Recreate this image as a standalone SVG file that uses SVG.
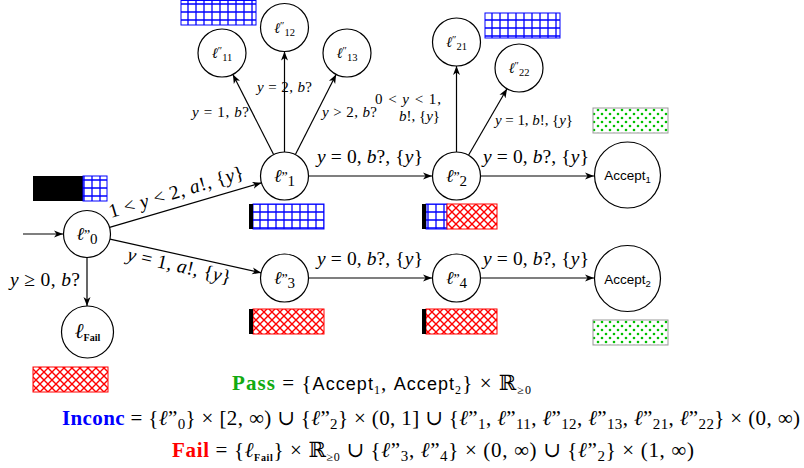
<svg xmlns="http://www.w3.org/2000/svg" width="804" height="468" viewBox="0 0 804 468">
<style>
.node circle{fill:#fff;stroke:#000;stroke-width:1.2}
.edge{fill:none;stroke:#000;stroke-width:1.2;marker-end:url(#ah)}
text{font-family:"Liberation Serif","DejaVu Serif",serif;fill:#000}
.m{font-size:19.5px}
.s{font-size:15px}
.i{font-style:italic}
.sf{font-family:"Liberation Sans","DejaVu Sans",sans-serif}
.l{font-family:"DejaVu Serif",serif;font-style:italic}
.f{font-size:21px}
.grid{fill:url(#pgrid);stroke:#0000ff;stroke-width:1}
.hatch{fill:url(#phatch);stroke:#ff0000;stroke-width:1}
.dots{fill:url(#pdots);stroke:#999;stroke-width:1}
</style>
<defs>
<marker id="ah" markerWidth="10" markerHeight="8" refX="9" refY="4" orient="auto" markerUnits="userSpaceOnUse"><path d="M0,0.5 L9,4 L0,7.5 L2.5,4 z" fill="#000"/></marker>
<pattern id="pgrid" width="8" height="8" patternUnits="userSpaceOnUse"><rect width="8" height="8" fill="#fff"/><path d="M0,4 H8 M4,0 V8" stroke="#0000ff" stroke-width="1.3"/></pattern>
<pattern id="phatch" width="8" height="8" patternUnits="userSpaceOnUse"><rect width="8" height="8" fill="#fff"/><path d="M-1,-1 L9,9 M9,-1 L-1,9" stroke="#ff0000" stroke-width="1.4"/></pattern>
<pattern id="pdots" width="8" height="8" patternUnits="userSpaceOnUse"><rect width="8" height="8" fill="#fff"/><circle cx="2" cy="2" r="1.3" fill="#00c000"/><circle cx="6" cy="6" r="1.3" fill="#00c000"/></pattern>
</defs>

<g id="bars">
<rect x="33" y="176" width="50" height="25" fill="#000"/>
<rect class="grid" x="83" y="176" width="24" height="25"/>
<rect class="grid" x="181" y="0.5" width="75" height="24.5"/>
<rect class="grid" x="485" y="13" width="75" height="25"/>
<rect class="dots" x="593" y="108" width="75" height="25"/>
<rect class="grid" x="253" y="204" width="71" height="25"/>
<rect x="249" y="204" width="4" height="25" fill="#000"/>
<rect class="grid" x="426" y="204" width="21" height="25"/>
<rect class="hatch" x="447" y="204" width="50" height="25"/>
<rect x="422" y="204" width="4" height="25" fill="#000"/>
<rect class="hatch" x="253" y="309" width="71" height="25"/>
<rect x="249" y="309" width="4" height="25" fill="#000"/>
<rect class="hatch" x="426" y="309" width="71" height="25"/>
<rect x="422" y="309" width="4" height="25" fill="#000"/>
<rect class="dots" x="593" y="320" width="75" height="25"/>
<rect class="hatch" x="33" y="367" width="75" height="25"/>
</g>

<g id="connectors">
<path class="edge" d="M23,234 L63,234"/>
<path class="edge" d="M109.6,227.4 L261.5,182.8"/>
<path class="edge" d="M110,239.1 L261.1,272.8"/>
<path class="edge" d="M87,257.5 L87,306"/>
<path class="edge" d="M308.5,176 L432,176"/>
<path class="edge" d="M480.5,176 L594,176"/>
<path class="edge" d="M308.5,278 L432,278"/>
<path class="edge" d="M480.5,278 L594,278"/>
<path class="edge" d="M273.6,154.6 L232.9,74.4"/>
<path class="edge" d="M284.5,152 L284.5,51.5"/>
<path class="edge" d="M295.4,154.6 L336.1,74.4"/>
<path class="edge" d="M456.5,152 L456.5,66"/>
<path class="edge" d="M468.5,155.2 L507,88.8"/>
</g>

<g id="edge-labels">
<text class="m" transform="translate(178,198) rotate(-16.6)" text-anchor="middle" textLength="140">1 &lt; <tspan class="i">y</tspan> &lt; 2, <tspan class="i">a</tspan>!, {<tspan class="i">y</tspan>}</text>
<text class="m" transform="translate(178,272) rotate(12.9)" text-anchor="middle" textLength="106"><tspan class="i">y</tspan> = 1, <tspan class="i">a</tspan>!, {<tspan class="i">y</tspan>}</text>
<text class="m" x="10" y="286" textLength="70"><tspan class="i">y</tspan> ≥ 0, <tspan class="i">b</tspan>?</text>
<text class="m" x="370" y="163" text-anchor="middle" textLength="106"><tspan class="i">y</tspan> = 0, <tspan class="i">b</tspan>?, {<tspan class="i">y</tspan>}</text>
<text class="m" x="536" y="163" text-anchor="middle" textLength="106"><tspan class="i">y</tspan> = 0, <tspan class="i">b</tspan>?, {<tspan class="i">y</tspan>}</text>
<text class="m" x="370" y="265" text-anchor="middle" textLength="106"><tspan class="i">y</tspan> = 0, <tspan class="i">b</tspan>?, {<tspan class="i">y</tspan>}</text>
<text class="m" x="536" y="265" text-anchor="middle" textLength="106"><tspan class="i">y</tspan> = 0, <tspan class="i">b</tspan>?, {<tspan class="i">y</tspan>}</text>
<text class="s" x="192" y="117" textLength="57"><tspan class="i">y</tspan> = 1, <tspan class="i">b</tspan>?</text>
<text class="s" x="257" y="92" textLength="55"><tspan class="i">y</tspan> = 2, <tspan class="i">b</tspan>?</text>
<text class="s" x="322" y="117" textLength="55"><tspan class="i">y</tspan> &gt; 2, <tspan class="i">b</tspan>?</text>
<text class="s" x="375" y="104" textLength="66">0 &lt; <tspan class="i">y</tspan> &lt; 1,</text>
<text class="s" x="440" y="121" text-anchor="end"><tspan class="i">b</tspan>!, {<tspan class="i">y</tspan>}</text>
<text class="s" x="495" y="125" textLength="78"><tspan class="i">y</tspan> = 1, <tspan class="i">b</tspan>!, {<tspan class="i">y</tspan>}</text>
</g>

<g id="n0" class="node"><circle cx="87" cy="234" r="23.5"/><text x="87" y="240" text-anchor="middle" font-size="18"><tspan class="l">ℓ</tspan><tspan font-size="14">”</tspan><tspan dy="4" font-size="15">0</tspan></text></g>
<g id="n1" class="node"><circle cx="284.5" cy="176" r="24"/><text x="284.5" y="182" text-anchor="middle" font-size="18"><tspan class="l">ℓ</tspan><tspan font-size="14">”</tspan><tspan dy="4" font-size="15">1</tspan></text></g>
<g id="n2" class="node"><circle cx="456.5" cy="176" r="24"/><text x="456.5" y="182" text-anchor="middle" font-size="18"><tspan class="l">ℓ</tspan><tspan font-size="14">”</tspan><tspan dy="4" font-size="15">2</tspan></text></g>
<g id="n3" class="node"><circle cx="284.5" cy="278" r="24"/><text x="284.5" y="284" text-anchor="middle" font-size="18"><tspan class="l">ℓ</tspan><tspan font-size="14">”</tspan><tspan dy="4" font-size="15">3</tspan></text></g>
<g id="n4" class="node"><circle cx="456.5" cy="278" r="24"/><text x="456.5" y="284" text-anchor="middle" font-size="18"><tspan class="l">ℓ</tspan><tspan font-size="14">”</tspan><tspan dy="4" font-size="15">4</tspan></text></g>
<g id="acc1" class="node"><circle cx="627.5" cy="175" r="33"/><text class="sf" x="627.5" y="180" text-anchor="middle" font-size="13.5">Accept<tspan dy="3" font-size="9.5">1</tspan></text></g>
<g id="acc2" class="node"><circle cx="627.5" cy="278.5" r="33"/><text class="sf" x="627.5" y="283.5" text-anchor="middle" font-size="13.5">Accept<tspan dy="3" font-size="9.5">2</tspan></text></g>
<g id="nfail" class="node"><circle cx="87.5" cy="332" r="26"/><text x="87.5" y="338" text-anchor="middle" font-size="21"><tspan class="l">ℓ</tspan><tspan dy="3" font-size="10" font-weight="bold">Fail</tspan></text></g>
<g id="n11" class="node"><circle cx="222" cy="53" r="24"/><text x="222" y="58" text-anchor="middle" font-size="14.5"><tspan class="l">ℓ</tspan><tspan dy="-4" font-size="10.5">″</tspan><tspan dy="7" font-size="10.5">11</tspan></text></g>
<g id="n12" class="node"><circle cx="284.5" cy="27.5" r="24"/><text x="284.5" y="32.5" text-anchor="middle" font-size="14.5"><tspan class="l">ℓ</tspan><tspan dy="-4" font-size="10.5">″</tspan><tspan dy="7" font-size="10.5">12</tspan></text></g>
<g id="n13" class="node"><circle cx="347" cy="53" r="24"/><text x="347" y="58" text-anchor="middle" font-size="14.5"><tspan class="l">ℓ</tspan><tspan dy="-4" font-size="10.5">″</tspan><tspan dy="7" font-size="10.5">13</tspan></text></g>
<g id="n21" class="node"><circle cx="456.5" cy="42" r="24"/><text x="456.5" y="47" text-anchor="middle" font-size="14.5"><tspan class="l">ℓ</tspan><tspan dy="-4" font-size="10.5">″</tspan><tspan dy="7" font-size="10.5">21</tspan></text></g>
<g id="n22" class="node"><circle cx="519" cy="68" r="24"/><text x="519" y="73" text-anchor="middle" font-size="14.5"><tspan class="l">ℓ</tspan><tspan dy="-4" font-size="10.5">″</tspan><tspan dy="7" font-size="10.5">22</tspan></text></g>

<g id="formulas">
<text class="f" x="381.5" y="390" text-anchor="middle" textLength="299"><tspan font-weight="bold" fill="#11aa11">Pass</tspan> = {<tspan class="sf" font-size="18">Accept</tspan><tspan dy="4" font-size="12">1</tspan><tspan dy="-4">, </tspan><tspan class="sf" font-size="18">Accept</tspan><tspan dy="4" font-size="12">2</tspan><tspan dy="-4">} × ℝ</tspan><tspan dy="4" font-size="12">≥0</tspan></text>
<text class="f" x="431" y="425" text-anchor="middle" textLength="738"><tspan font-weight="bold" fill="#0000ff">Inconc</tspan> = {<tspan class="l">ℓ</tspan>”<tspan dy="4" font-size="15">0</tspan><tspan dy="-4">} × [2, ∞) ∪ {</tspan><tspan class="l">ℓ</tspan>”<tspan dy="4" font-size="15">2</tspan><tspan dy="-4">} × (0, 1] ∪ {</tspan><tspan class="l">ℓ</tspan>”<tspan dy="4" font-size="15">1</tspan><tspan dy="-4">, </tspan><tspan class="l">ℓ</tspan>”<tspan dy="4" font-size="15">11</tspan><tspan dy="-4">, </tspan><tspan class="l">ℓ</tspan>”<tspan dy="4" font-size="15">12</tspan><tspan dy="-4">, </tspan><tspan class="l">ℓ</tspan>”<tspan dy="4" font-size="15">13</tspan><tspan dy="-4">, </tspan><tspan class="l">ℓ</tspan>”<tspan dy="4" font-size="15">21</tspan><tspan dy="-4">, </tspan><tspan class="l">ℓ</tspan>”<tspan dy="4" font-size="15">22</tspan><tspan dy="-4">} × (0, ∞)</tspan></text>
<text class="f" x="433" y="457" text-anchor="middle" textLength="522"><tspan font-weight="bold" fill="#ff0000">Fail</tspan> = {<tspan class="l">ℓ</tspan><tspan dy="4" font-size="10" font-weight="bold">Fail</tspan><tspan dy="-4">} × ℝ</tspan><tspan dy="4" font-size="12">≥0</tspan><tspan dy="-4"> ∪ {</tspan><tspan class="l">ℓ</tspan>”<tspan dy="4" font-size="15">3</tspan><tspan dy="-4">, </tspan><tspan class="l">ℓ</tspan>”<tspan dy="4" font-size="15">4</tspan><tspan dy="-4">} × (0, ∞) ∪ {</tspan><tspan class="l">ℓ</tspan>”<tspan dy="4" font-size="15">2</tspan><tspan dy="-4">} × (1, ∞)</tspan></text>
</g>
</svg>
